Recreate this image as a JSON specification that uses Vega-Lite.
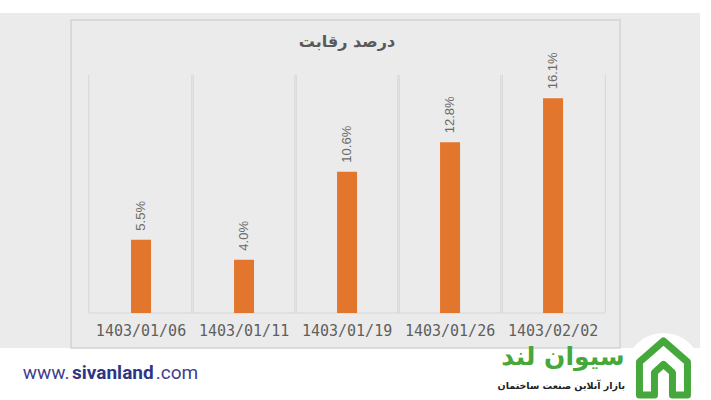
{
  "$schema": "https://vega.github.io/schema/vega-lite/v6.json",
  "autosize": "none",
  "width": 700,
  "height": 335,
  "padding": {"left": 0, "top": 13, "right": 11, "bottom": 52},
  "background": "#ffffff",
  "config": {"view": {"fill": "#ebebeb", "stroke": null}},
  "data": {"values": [
    {"date": "1403/01/06", "value": 0.055},
    {"date": "1403/01/11", "value": 0.040},
    {"date": "1403/01/19", "value": 0.106},
    {"date": "1403/01/26", "value": 0.128},
    {"date": "1403/02/02", "value": 0.161}
  ]},
  "transform": [{"window": [{"op": "row_number", "as": "n"}]}],
  "layer": [
    {
      "data": {"values": [{}]},
      "mark": {"type": "rect", "fillOpacity": 0, "stroke": "#d4d4d4", "strokeWidth": 1.5},
      "encoding": {
        "x": {"datum": 0.3206, "type": "quantitative", "scale": {"domain": [-0.32057, 6.37799], "nice": false, "zero": false}, "axis": null},
        "x2": {"datum": 5.6507},
        "y": {"datum": -0.02625, "type": "quantitative", "scale": {"domain": [-0.02625, 0.225], "nice": false, "zero": false}, "axis": null},
        "y2": {"datum": 0.21975}
      }
    },
    {
      "mark": {"type": "rule", "color": "#d6d6d6", "strokeWidth": 1, "xOffset": -52.25},
      "encoding": {
        "x": {"field": "n", "type": "quantitative", "scale": {"domain": [-0.32057, 6.37799], "nice": false, "zero": false}, "axis": null},
        "y": {"datum": 0, "type": "quantitative", "scale": {"domain": [-0.02625, 0.225], "nice": false, "zero": false}, "axis": null},
        "y2": {"datum": 0.1785}
      }
    },
    {
      "mark": {"type": "rule", "color": "#d6d6d6", "strokeWidth": 1, "xOffset": 52.25},
      "encoding": {
        "x": {"field": "n", "type": "quantitative", "scale": {"domain": [-0.32057, 6.37799], "nice": false, "zero": false}, "axis": null},
        "y": {"datum": 0, "type": "quantitative", "scale": {"domain": [-0.02625, 0.225], "nice": false, "zero": false}, "axis": null},
        "y2": {"datum": 0.1785}
      }
    },
    {
      "data": {"values": [{}]},
      "mark": {"type": "rule", "color": "#d6d6d6", "strokeWidth": 1},
      "encoding": {
        "x": {"datum": 0.5, "type": "quantitative", "scale": {"domain": [-0.32057, 6.37799], "nice": false, "zero": false}, "axis": null},
        "x2": {"datum": 5.5},
        "y": {"datum": 0, "type": "quantitative", "scale": {"domain": [-0.02625, 0.225], "nice": false, "zero": false}, "axis": null}
      }
    },
    {
      "mark": {"type": "bar", "orient": "vertical", "size": 20, "color": "#e2762d"},
      "encoding": {
        "x": {"field": "n", "type": "quantitative", "scale": {"domain": [-0.32057, 6.37799], "nice": false, "zero": false}, "axis": null},
        "y": {"field": "value", "type": "quantitative", "scale": {"domain": [-0.02625, 0.225], "nice": false, "zero": false}, "axis": null},
        "y2": {"datum": 0}
      }
    },
    {
      "mark": {"type": "text", "angle": 270, "align": "left", "baseline": "middle", "dx": 9, "font": "Liberation Sans", "fontSize": 13, "color": "#6a6a6a"},
      "encoding": {
        "x": {"field": "n", "type": "quantitative", "scale": {"domain": [-0.32057, 6.37799], "nice": false, "zero": false}, "axis": null},
        "y": {"field": "value", "type": "quantitative", "scale": {"domain": [-0.02625, 0.225], "nice": false, "zero": false}, "axis": null},
        "text": {"field": "value", "type": "quantitative", "format": ".1%"}
      }
    },
    {
      "mark": {"type": "text", "align": "center", "baseline": "middle", "font": "DejaVu Sans Mono", "fontSize": 15, "color": "#5f5f5f"},
      "encoding": {
        "x": {"field": "n", "type": "quantitative", "scale": {"domain": [-0.32057, 6.37799], "nice": false, "zero": false}, "axis": null},
        "y": {"datum": -0.0135, "type": "quantitative", "scale": {"domain": [-0.02625, 0.225], "nice": false, "zero": false}, "axis": null},
        "text": {"field": "date", "type": "nominal"}
      }
    },
    {
      "data": {"values": [{}]},
      "mark": {"type": "text", "text": "درصد رقابت", "align": "center", "baseline": "middle", "font": "DejaVu Sans", "fontWeight": "bold", "fontSize": 16, "color": "#595959"},
      "encoding": {
        "x": {"datum": 3, "type": "quantitative", "scale": {"domain": [-0.32057, 6.37799], "nice": false, "zero": false}, "axis": null},
        "y": {"datum": 0.203, "type": "quantitative", "scale": {"domain": [-0.02625, 0.225], "nice": false, "zero": false}, "axis": null}
      }
    },
    {
      "data": {"values": [{}]},
      "mark": {"type": "text", "text": "www.", "align": "left", "baseline": "middle", "font": "Roboto", "fontSize": 19, "color": "#3d4290"},
      "encoding": {
        "x": {"datum": -0.1483, "type": "quantitative", "scale": {"domain": [-0.32057, 6.37799], "nice": false, "zero": false}, "axis": null},
        "y": {"datum": -0.045, "type": "quantitative", "scale": {"domain": [-0.02625, 0.225], "nice": false, "zero": false}, "axis": null}
      }
    },
    {
      "data": {"values": [{}]},
      "mark": {"type": "text", "text": "sivanland", "align": "left", "baseline": "middle", "font": "Roboto", "fontWeight": "bold", "fontSize": 19, "color": "#2f3585"},
      "encoding": {
        "x": {"datum": 0.3301, "type": "quantitative", "scale": {"domain": [-0.32057, 6.37799], "nice": false, "zero": false}, "axis": null},
        "y": {"datum": -0.045, "type": "quantitative", "scale": {"domain": [-0.02625, 0.225], "nice": false, "zero": false}, "axis": null}
      }
    },
    {
      "data": {"values": [{}]},
      "mark": {"type": "text", "text": ".com", "align": "left", "baseline": "middle", "font": "Roboto", "fontSize": 19, "color": "#3d4290"},
      "encoding": {
        "x": {"datum": 1.1435, "type": "quantitative", "scale": {"domain": [-0.32057, 6.37799], "nice": false, "zero": false}, "axis": null},
        "y": {"datum": -0.045, "type": "quantitative", "scale": {"domain": [-0.02625, 0.225], "nice": false, "zero": false}, "axis": null}
      }
    },
    {
      "data": {"values": [{}]},
      "mark": {"type": "point", "shape": "circle", "filled": true, "color": "#ffffff", "opacity": 1, "size": 5800},
      "encoding": {
        "x": {"datum": 6.0718, "type": "quantitative", "scale": {"domain": [-0.32057, 6.37799], "nice": false, "zero": false}, "axis": null},
        "y": {"datum": -0.0435, "type": "quantitative", "scale": {"domain": [-0.02625, 0.225], "nice": false, "zero": false}, "axis": null}
      }
    },
    {
      "data": {"values": [{}]},
      "mark": {"type": "point", "shape": "M-0.8,0.9 L-0.8,-0.2 L0,-0.9 L0.8,-0.2 L0.8,0.9 L0.3,0.9 M-0.8,0.9 L-0.3,0.9 M-0.3,0.9 L-0.3,0.15 L0,-0.12 L0.3,0.15 L0.3,0.9", "filled": false, "stroke": "#44a83a", "strokeWidth": 7, "strokeJoin": "round", "strokeCap": "round", "opacity": 1, "size": 3600},
      "encoding": {
        "x": {"datum": 6.0718, "type": "quantitative", "scale": {"domain": [-0.32057, 6.37799], "nice": false, "zero": false}, "axis": null},
        "y": {"datum": -0.04125, "type": "quantitative", "scale": {"domain": [-0.02625, 0.225], "nice": false, "zero": false}, "axis": null}
      }
    },
    {
      "data": {"values": [{}]},
      "mark": {"type": "text", "text": "سیوان لند", "align": "center", "baseline": "middle", "font": "DejaVu Sans", "fontWeight": "bold", "fontSize": 25, "color": "#44a83a"},
      "encoding": {
        "x": {"datum": 5.0957, "type": "quantitative", "scale": {"domain": [-0.32057, 6.37799], "nice": false, "zero": false}, "axis": null},
        "y": {"datum": -0.033, "type": "quantitative", "scale": {"domain": [-0.02625, 0.225], "nice": false, "zero": false}, "axis": null}
      }
    },
    {
      "data": {"values": [{}]},
      "mark": {"type": "text", "text": "بازار آنلاین صنعت ساختمان", "align": "right", "baseline": "middle", "font": "DejaVu Sans", "fontWeight": "bold", "fontSize": 9.5, "color": "#222222"},
      "encoding": {
        "x": {"datum": 5.7, "type": "quantitative", "scale": {"domain": [-0.32057, 6.37799], "nice": false, "zero": false}, "axis": null},
        "y": {"datum": -0.05475, "type": "quantitative", "scale": {"domain": [-0.02625, 0.225], "nice": false, "zero": false}, "axis": null}
      }
    }
  ]
}
